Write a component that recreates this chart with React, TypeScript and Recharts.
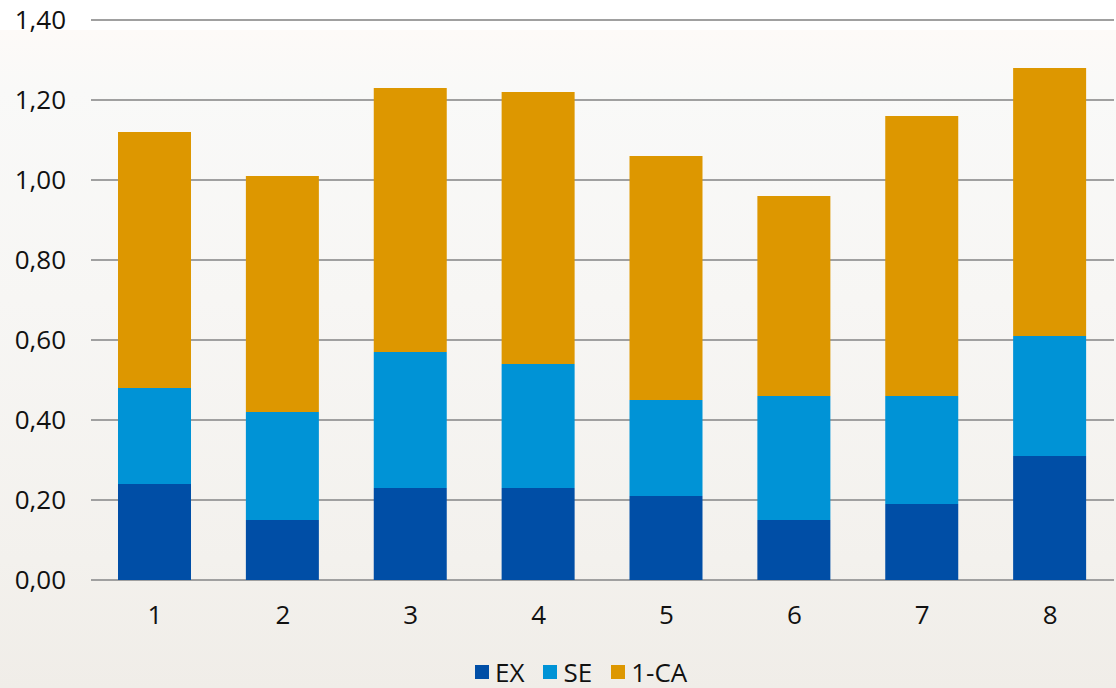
import React from "react";
import {
  BarChart,
  Bar,
  XAxis,
  YAxis,
  CartesianGrid,
  Legend,
} from "recharts";

const categories = ["1", "2", "3", "4", "5", "6", "7", "8"];
const exValues = [0.24, 0.15, 0.23, 0.23, 0.21, 0.15, 0.19, 0.31];
const seValues = [0.24, 0.27, 0.34, 0.31, 0.24, 0.31, 0.27, 0.3];
const caValues = [0.64, 0.59, 0.66, 0.68, 0.61, 0.5, 0.7, 0.67];
const yTicks = [0, 0.2, 0.4, 0.6, 0.8, 1.0, 1.2, 1.4];

const series = [
  { key: "EX", color: "#004ea6" },
  { key: "SE", color: "#0093d6" },
  { key: "1-CA", color: "#dd9700" },
];

const data = categories.map((name, i) => ({
  name,
  EX: exValues[i],
  SE: seValues[i],
  "1-CA": caValues[i],
}));

const FONT = "'Open Sans', sans-serif";

const fmt = (v: number) => v.toFixed(2).replace(".", ",");

const LegendBox = () => (
  <div
    style={{
      height: 40,
      display: "flex",
      alignItems: "center",
      paddingLeft: 475,
      paddingTop: 8,
      boxSizing: "border-box",
      fontFamily: FONT,
      fontSize: 26,
      color: "#111",
    }}
  >
    {series.map((s) => (
      <div
        key={s.key}
        style={{ display: "flex", alignItems: "center", marginRight: 19 }}
      >
        <span
          style={{
            width: 14,
            height: 14,
            background: s.color,
            display: "inline-block",
            marginRight: 6,
          }}
        />
        <span style={{ lineHeight: "26px" }}>{s.key}</span>
      </div>
    ))}
  </div>
);

const App = () => {
  return (
    <div
      style={{
        position: "absolute",
        left: 0,
        top: 0,
        width: 1116,
        height: 688,
        background:
          "linear-gradient(to bottom, #ffffff 0px, #ffffff 30px, #fdfaf8 30px, #f9f9f8 90px, #f7f6f4 300px, #f3f1ed 560px, #f0ede8 688px)",
      }}
    >
      <BarChart
        width={1116}
        height={688}
        data={data}
        margin={{ top: 20, right: 2, bottom: 0, left: 0 }}
        barSize={73}
      >
        <CartesianGrid
          horizontal
          vertical={false}
          stroke="#a0a0a0"
          strokeWidth={2}
        />
        <XAxis
          dataKey="name"
          height={68}
          axisLine={false}
          tickLine={false}
          tickSize={0}
          tickMargin={26}
          tick={{ fill: "#111", fontSize: 26, fontFamily: FONT }}
        />
        <YAxis
          width={91}
          domain={[0, 1.4]}
          ticks={yTicks}
          tickFormatter={fmt}
          axisLine={false}
          tickLine={false}
          tickSize={0}
          tickMargin={25}
          interval={0}
          tick={{ fill: "#111", fontSize: 26, fontFamily: FONT }}
        />
        <Legend verticalAlign="bottom" height={40} content={<LegendBox />} />
        {series.map((s) => (
          <Bar
            key={s.key}
            dataKey={s.key}
            stackId="a"
            fill={s.color}
            isAnimationActive={false}
          />
        ))}
      </BarChart>
    </div>
  );
};

export default App;
